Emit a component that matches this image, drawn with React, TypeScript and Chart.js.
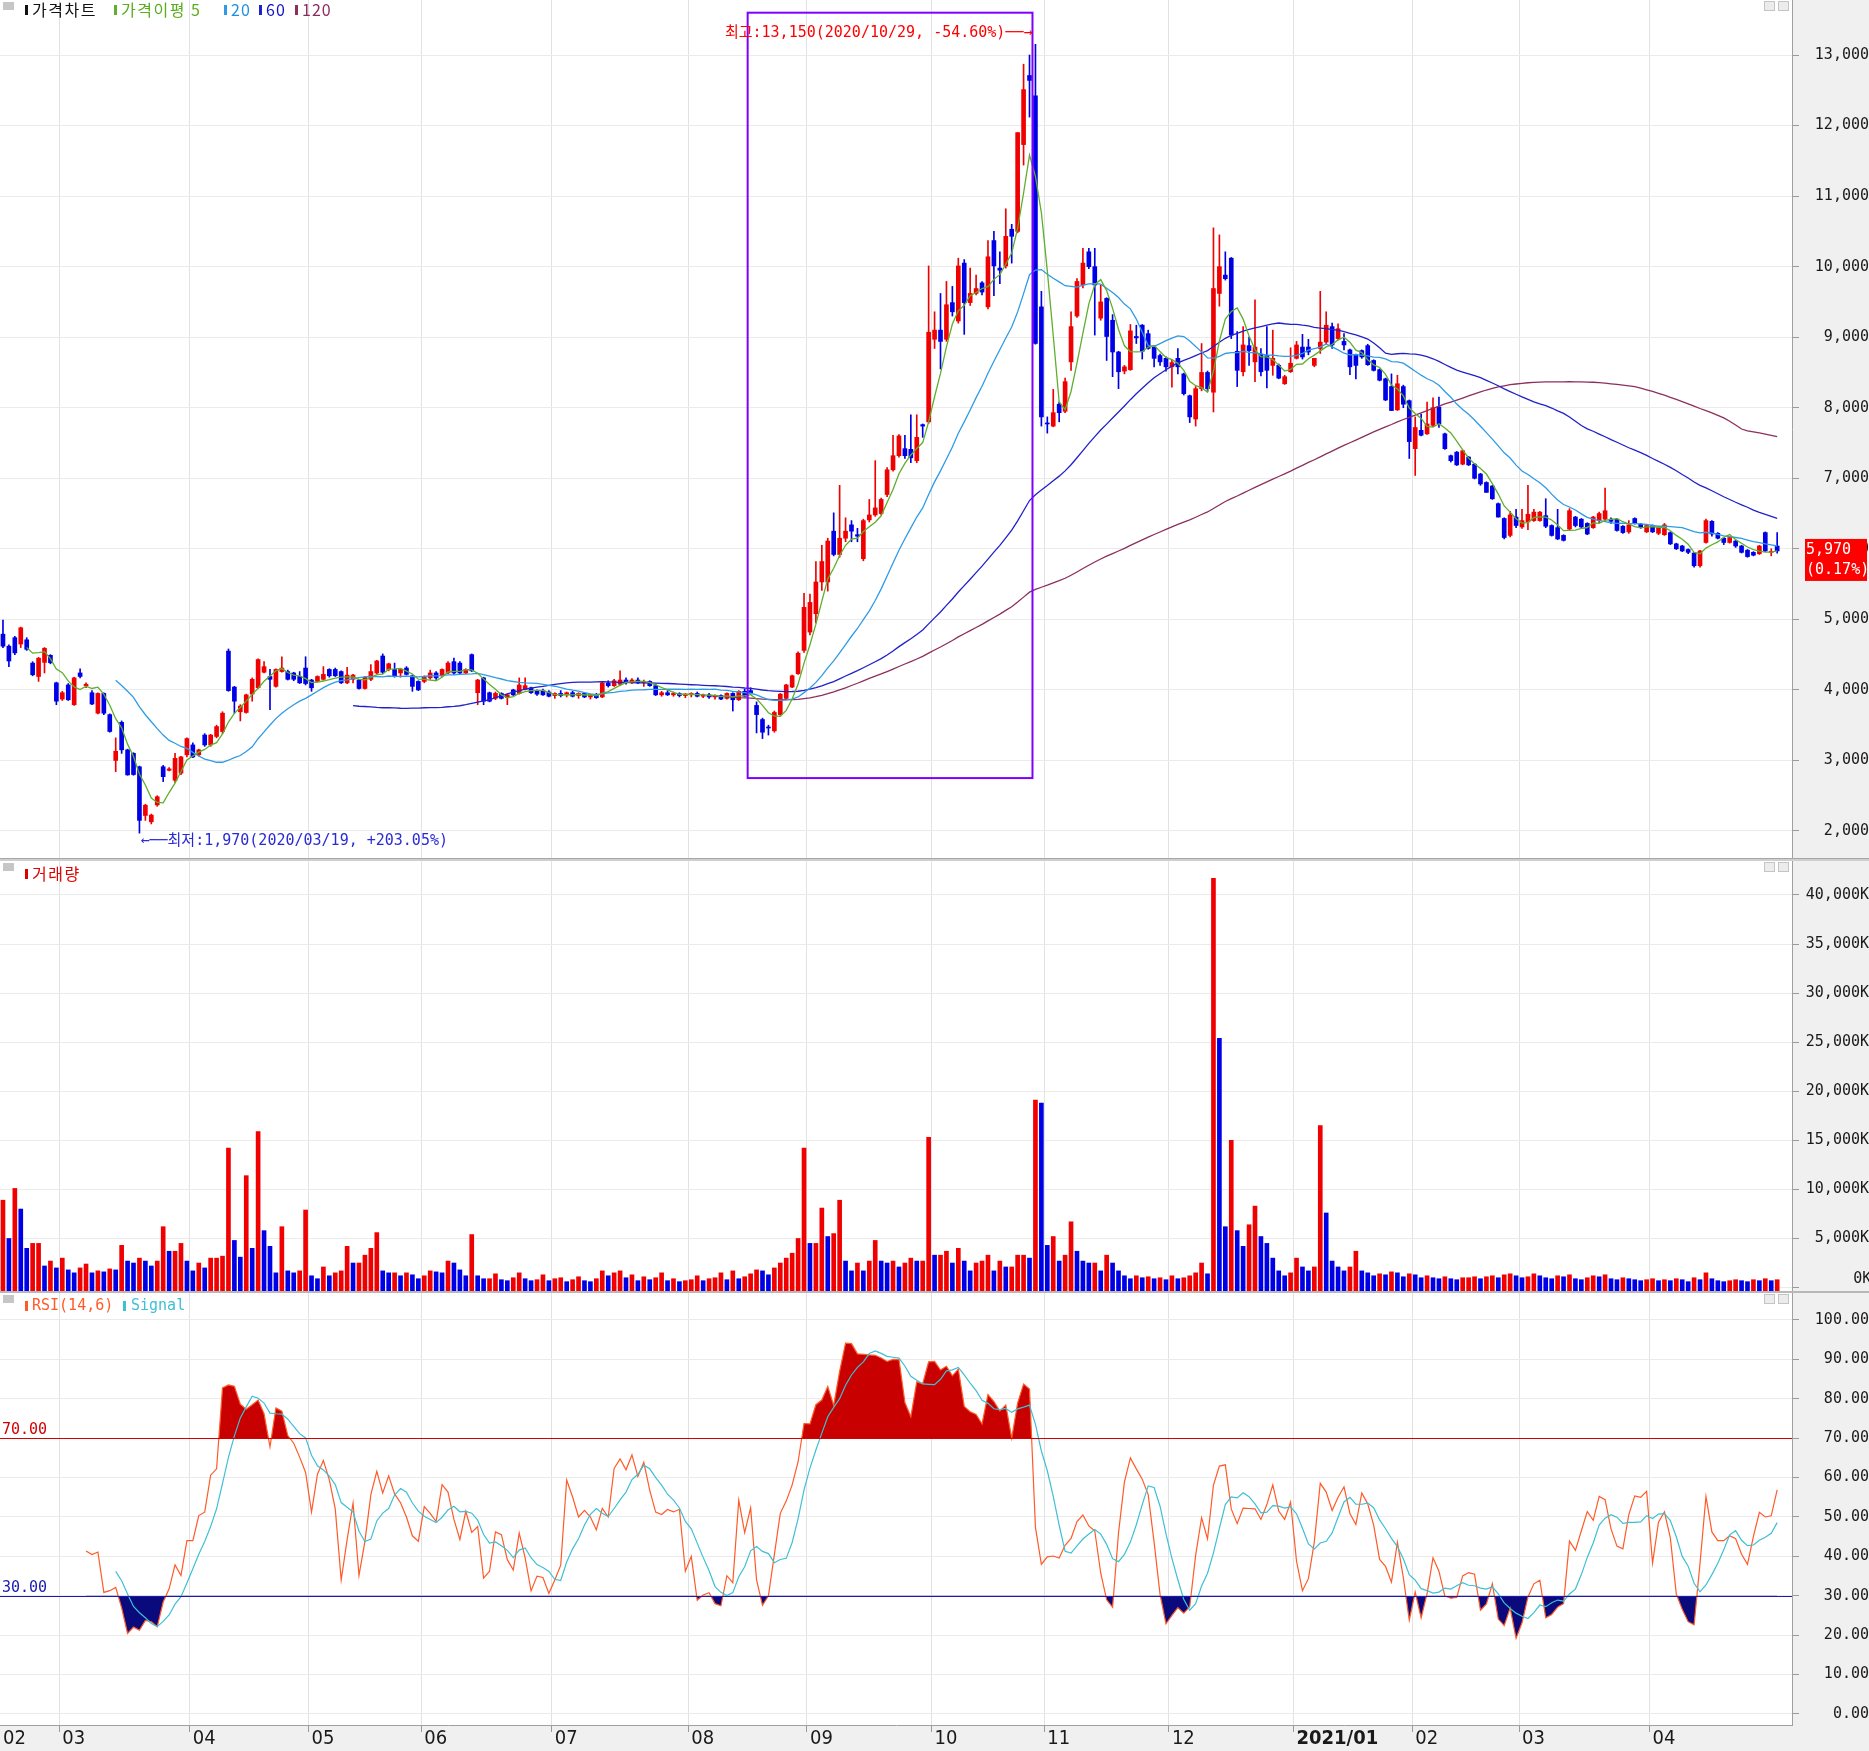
import React, { useEffect, useRef } from 'react';
import { Chart, registerables } from 'chart.js';

Chart.register(...registerables);

// ---------------- data (daily candles, 2020/02/17 .. 2021/04/30) ----------------
const OPEN = [
  4790, 4620, 4740, 4650, 4710, 4380, 4190, 4390, 4490, 4100,
  3870, 4070, 3790, 4240, 4060, 3960, 3670, 3950, 3650, 3000,
  3540, 3150, 3100, 2910, 2220, 2130, 2370, 2910, 2860, 2720,
  2820, 3080, 3220, 3080, 3360, 3220, 3340, 3410, 4550, 4040,
  3690, 3680, 3940, 4030, 4250, 4190, 4050, 4260, 4260, 4240,
  4190, 4310, 4140, 4120, 4150, 4290, 4290, 4260, 4100, 4150,
  4140, 4020, 4150, 4240, 4480, 4290, 4290, 4240, 4310, 4200,
  4120, 4120, 4170, 4240, 4200, 4240, 4400, 4380, 4240, 4500,
  3960, 4170, 3960, 3880, 3950, 3890, 4000, 3950, 4010, 4030,
  3990, 3990, 3970, 3920, 3950, 3930, 3960, 3920, 3950, 3900,
  3930, 3900, 4100, 4060, 4080, 4140, 4100, 4140, 4100, 4120,
  4060, 3930, 3960, 3930, 3950, 3920, 3930, 3950, 3910, 3930,
  3900, 3920, 3880, 3950, 3860, 3980, 3990, 3780, 3580, 3470,
  3420, 3650, 3880, 4040, 4230, 4560, 4820, 5080, 5530, 5530,
  6250, 5920, 6150, 6340, 6200, 5860, 6410, 6480, 6500, 6770,
  7120, 7320, 7420, 7410, 7250, 7760, 7800, 8970, 9100, 8970,
  9490, 9230, 10050, 9490, 9620, 9770, 9430, 10370, 9980, 10010,
  10530, 10500, 11730, 12710, 12420, 9430, 7780, 7740, 8050, 7950,
  8650, 9300, 9740, 10210, 10000, 9270, 9550, 9240, 8790, 8520,
  8540, 9010, 9170, 9050, 8860, 8740, 8700, 8580, 8700, 8480,
  8170, 7840, 8270, 8500, 8220, 9620, 9880, 10120, 8800, 8510,
  8880, 8650, 8760, 8740, 8600, 8600, 8340, 8510, 8700, 8860,
  8860, 8600, 8840, 8930, 9150, 8980, 8940, 8820, 8750, 8810,
  8880, 8670, 8540, 8410, 8300, 7970, 8300, 8100, 7420, 7680,
  7630, 7750, 8010, 7630, 7320, 7370, 7200, 7300, 7200, 7060,
  6940, 6890, 6640, 6430, 6190, 6450, 6310, 6380, 6400, 6400,
  6470, 6330, 6300, 6190, 6280, 6450, 6420, 6360, 6300, 6400,
  6420, 6420, 6420, 6320, 6240, 6430, 6350, 6240, 6330, 6220,
  6200, 6230, 6070, 6040, 5990, 5940, 5760, 6090, 6390, 6220,
  6150, 6090, 6110, 6040, 5980, 5950, 5930, 6230, 5950, 6040,
];
const HIGH = [
  4990, 4640, 4760, 4890, 4740, 4400, 4460, 4600, 4500, 4110,
  3980, 4090, 4180, 4300, 4100, 3990, 3960, 3960, 3660, 3320,
  3560, 3160, 3110, 2920, 2380, 2240, 2500, 2930, 2900, 3100,
  3060, 3320, 3250, 3160, 3380, 3370, 3500, 3690, 4580, 4050,
  3790, 3940, 4170, 4440, 4400, 4290, 4300, 4470, 4280, 4250,
  4260, 4470, 4150, 4200, 4330, 4300, 4310, 4270, 4320, 4220,
  4150, 4190, 4360, 4420, 4510, 4380, 4380, 4300, 4330, 4210,
  4130, 4200, 4280, 4260, 4300, 4400, 4450, 4400, 4300, 4510,
  4150, 4180, 3970, 3970, 3960, 3940, 4010, 4170, 4170, 4040,
  4000, 4010, 3990, 3960, 3990, 3970, 3980, 3960, 3960, 3940,
  3950, 4120, 4130, 4150, 4270, 4170, 4160, 4170, 4140, 4130,
  4080, 3980, 3990, 3970, 3960, 3950, 3960, 3970, 3940, 3950,
  3930, 3930, 3960, 3960, 3990, 4010, 4030, 3830, 3600, 3500,
  3700, 3950, 4080, 4210, 4540, 5370, 5360, 5820, 6050, 6150,
  6510, 6900, 6440, 6400, 6290, 6420, 6700, 7250, 6720, 7150,
  7610, 7620, 7610, 7900, 7900, 7770, 10010, 9360, 9620, 9790,
  9720, 10120, 10100, 9980, 9880, 9790, 10370, 10500, 10210, 10820,
  10600, 11900, 12870, 13000, 13150, 9650, 7870, 8260, 8080, 8420,
  9360, 9830, 10260, 10260, 10260, 9740, 9560, 9320, 8800, 8600,
  9180, 9170, 9180, 9100, 8870, 8760, 8720, 8680, 8840, 8490,
  8180, 8300, 8910, 8520, 10550, 10450, 10210, 10130, 9080, 9150,
  9000, 9530, 8840, 9150, 9100, 8620, 8460, 8850, 8940, 9040,
  8970, 8700, 9650, 9360, 9200, 9190, 9050, 8830, 8760, 8820,
  8900, 8680, 8550, 8420, 8480, 8460, 8320, 8110, 7870, 7910,
  8080, 8140, 8150, 7640, 7330, 7380, 7400, 7310, 7210, 7070,
  6950, 6900, 6650, 6440, 6530, 6560, 6560, 6900, 6560, 6530,
  6710, 6340, 6560, 6200, 6570, 6460, 6430, 6370, 6460, 6520,
  6860, 6440, 6430, 6330, 6400, 6440, 6360, 6340, 6340, 6320,
  6360, 6240, 6080, 6050, 6000, 5950, 5980, 6420, 6400, 6230,
  6160, 6170, 6120, 6050, 5990, 5960, 6050, 6240, 6000, 6230,
];
const LOW = [
  4600, 4330, 4500, 4600, 4560, 4200, 4120, 4240, 4370, 3790,
  3850, 3850, 3780, 4170, 4030, 3790, 3660, 3650, 3400, 2840,
  3100, 2790, 2790, 1970, 2150, 2100, 2350, 2700, 2850, 2690,
  2800, 3050, 3040, 3060, 3200, 3200, 3320, 3380, 3980, 3670,
  3560, 3670, 3840, 4020, 4240, 3720, 4040, 4250, 4140, 4130,
  4090, 4070, 3980, 4110, 4140, 4180, 4190, 4090, 4090, 4100,
  4010, 4010, 4130, 4230, 4230, 4270, 4180, 4180, 4210, 3980,
  3990, 4100, 4150, 4150, 4190, 4230, 4220, 4230, 4230, 4260,
  3790, 3790, 3830, 3860, 3870, 3790, 3920, 3940, 4000, 3950,
  3920, 3920, 3900, 3880, 3900, 3900, 3900, 3880, 3890, 3870,
  3880, 3890, 4040, 4050, 4060, 4080, 4090, 4090, 4050, 4050,
  3920, 3910, 3920, 3910, 3900, 3890, 3900, 3900, 3890, 3880,
  3870, 3860, 3870, 3700, 3850, 3900, 3940, 3390, 3310, 3360,
  3400, 3640, 3870, 4030, 4220, 4530, 4780, 4950, 5410, 5400,
  5900, 5880, 6100, 6100, 6100, 5830, 6380, 6460, 6480, 6740,
  7100, 7300, 7280, 7220, 7220, 7580, 7780, 8840, 8550, 8940,
  9300, 9200, 9040, 9450, 9600, 9600, 9400, 9590, 9760, 9980,
  10050, 10480, 11440, 12120, 8900, 7740, 7640, 7730, 7800, 7930,
  8530, 9280, 9700, 9970, 9030, 9240, 8670, 8440, 8270, 8480,
  8530, 8910, 8690, 8830, 8580, 8600, 8520, 8290, 8480, 8180,
  7790, 7740, 8240, 8230, 7940, 9440, 9810, 8980, 8300, 8450,
  8600, 8370, 8450, 8280, 8460, 8410, 8330, 8500, 8690, 8690,
  8750, 8580, 8770, 8900, 8840, 8960, 8820, 8470, 8410, 8700,
  8600, 8520, 8380, 8100, 7960, 7960, 8000, 7280, 7040, 7600,
  7620, 7730, 7720, 7410, 7230, 7180, 7190, 7180, 6990, 6900,
  6800, 6700, 6450, 6140, 6170, 6300, 6290, 6270, 6390, 6390,
  6300, 6180, 6130, 6110, 6270, 6310, 6300, 6200, 6290, 6370,
  6410, 6360, 6250, 6220, 6220, 6350, 6290, 6230, 6230, 6200,
  6190, 6060, 5990, 5960, 5930, 5740, 5740, 6080, 6180, 6140,
  6060, 6080, 6020, 5940, 5880, 5900, 5920, 5960, 5900, 5940,
];
const CLOSE = [
  4620, 4410, 4525, 4880, 4575, 4215, 4450, 4590, 4385, 3840,
  3960, 3860, 4170, 4190, 4080, 3800, 3950, 3670, 3410, 3130,
  3150, 2795, 2800, 2150, 2365, 2225, 2485, 2770, 2880, 3030,
  3050, 3310, 3050, 3150, 3220, 3360, 3480, 3670, 3990, 3840,
  3770, 3930, 4150, 4430, 4330, 4150, 4290, 4310, 4150, 4150,
  4100, 4090, 4030, 4190, 4220, 4200, 4200, 4100, 4210, 4210,
  4020, 4180, 4260, 4410, 4250, 4370, 4200, 4290, 4220, 4050,
  4000, 4190, 4240, 4170, 4290, 4380, 4240, 4240, 4290, 4270,
  4140, 3840, 3840, 3950, 3880, 3930, 3930, 4070, 4060, 3960,
  3940, 3930, 3910, 3950, 3920, 3960, 3910, 3950, 3900, 3930,
  3890, 4100, 4060, 4130, 4140, 4100, 4140, 4100, 4120, 4060,
  3930, 3960, 3930, 3950, 3920, 3940, 3950, 3910, 3930, 3900,
  3920, 3870, 3950, 3860, 3980, 3910, 3960, 3650, 3400, 3460,
  3680, 3940, 4070, 4200, 4520, 5170, 5240, 5530, 5820, 6110,
  5920, 6150, 6250, 6250, 6180, 6400, 6480, 6580, 6700, 7120,
  7320, 7600, 7320, 7290, 7580, 7740, 9070, 9100, 8940, 9460,
  9360, 10010, 9490, 9620, 9690, 9640, 10140, 10010, 9950, 10430,
  10430, 11900, 12510, 12640, 8910, 7870, 7770, 7930, 7930, 8370,
  9150, 9790, 10050, 10000, 9740, 9500, 9010, 8790, 8510, 8580,
  9090, 8990, 8800, 8840, 8700, 8650, 8580, 8640, 8580, 8200,
  7870, 8270, 8500, 8270, 9690, 10000, 9830, 9030, 8530, 8890,
  8810, 8860, 8510, 8530, 8700, 8420, 8440, 8630, 8890, 8720,
  8790, 8700, 8930, 9170, 8890, 9120, 8890, 8580, 8600, 8720,
  8610, 8530, 8390, 8110, 7960, 8340, 8050, 7520, 7720, 7610,
  7770, 8000, 7770, 7420, 7250, 7190, 7390, 7190, 7000, 6920,
  6800, 6710, 6450, 6160, 6480, 6330, 6400, 6490, 6520, 6520,
  6320, 6190, 6140, 6120, 6540, 6330, 6310, 6210, 6450, 6500,
  6540, 6390, 6260, 6230, 6340, 6360, 6300, 6330, 6240, 6300,
  6340, 6070, 6000, 5970, 5950, 5760, 5970, 6400, 6210, 6150,
  6090, 6160, 6040, 5950, 5890, 5910, 6040, 5970, 5960, 5970,
];
// thousands of shares
const VOLUME = [
  8900, 5000, 10100, 8000, 4000, 4500, 4500, 2200, 2700, 2000,
  3000, 1800, 1500, 2000, 2400, 1500, 1700, 1600, 1900, 1800,
  4300, 2700, 2500, 3000, 2700, 2200, 2700, 6200, 3700, 3700,
  4500, 2700, 1700, 2500, 2000, 3000, 3000, 3200, 14200, 4800,
  3100, 11400, 4000, 15900, 5800, 4200, 1500, 6200, 1700, 1500,
  1700, 7900, 1200, 900, 2100, 1200, 1500, 1700, 4200, 2500,
  2500, 3300, 4000, 5600, 1700, 1500, 1500, 1200, 1500, 1300,
  900, 1200, 1700, 1600, 1500, 2700, 2500, 1800, 1200, 5400,
  1200, 900, 900, 1400, 800, 700, 1000, 1500, 900, 700,
  800, 1300, 700, 900, 1000, 600, 800, 1100, 700, 600,
  900, 1700, 1200, 1500, 1700, 1000, 1300, 700, 1100, 800,
  1000, 1500, 700, 900, 600, 700, 800, 1200, 700, 900,
  1000, 1500, 800, 1700, 900, 1100, 1400, 1800, 1700, 1300,
  2000, 2500, 3000, 3500, 5000, 14200, 4500, 4500, 8100, 5200,
  5500, 8900, 2700, 1700, 2500, 1700, 2700, 4800, 2700, 2500,
  2700, 2100, 2500, 3000, 2700, 2700, 15300, 3300, 3300, 3700,
  2500, 4000, 2700, 1700, 2500, 2700, 3300, 1700, 2700, 2100,
  2100, 3300, 3300, 3000, 19100, 18800, 4300, 5200, 2700, 3300,
  6700, 3700, 2700, 2500, 2500, 1700, 3300, 2500, 1700, 1200,
  900, 1200, 1000, 1100, 900, 1000, 800, 1200, 900, 1000,
  1200, 1500, 2500, 1400, 41700, 25400, 6200, 15000, 5800, 4200,
  6400, 8300, 5200, 4500, 3000, 1700, 1200, 1500, 3000, 2100,
  1700, 2100, 16500, 7600, 2700, 2100, 1700, 2100, 3700, 1700,
  1500, 1200, 1400, 1300, 1600, 1500, 1100, 1400, 1300, 1000,
  1200, 1000, 900, 1100, 900, 800, 1000, 1000, 1100, 900,
  1100, 1200, 1000, 1300, 1400, 1200, 1000, 1100, 1400, 1200,
  1000, 900, 1200, 1100, 1300, 900, 800, 1000, 1200, 1100,
  1300, 900, 800, 1000, 900, 800, 700, 800, 900, 700,
  800, 700, 900, 800, 600, 1000, 800, 1500, 900, 700,
  600, 700, 800, 700, 600, 800, 700, 900, 700, 800,
];

const FIRST_DATE = '2020-02-17';
const HOLIDAYS = [
  '2020-04-15', '2020-04-30', '2020-05-01', '2020-05-05', '2020-08-17',
  '2020-09-30', '2020-10-01', '2020-10-02', '2020-10-09', '2020-12-25',
  '2020-12-31', '2021-01-01', '2021-02-11', '2021-02-12', '2021-03-01',
];
const EMPTY_SLOTS = 2;

const PRICE_TICKS = [2000, 3000, 4000, 5000, 6000, 7000, 8000, 9000, 10000, 11000, 12000, 13000];
const VOLUME_TICKS = [0, 5000, 10000, 15000, 20000, 25000, 30000, 35000, 40000];
const RSI_TICKS = [0, 10, 20, 30, 40, 50, 60, 70, 80, 90, 100];
const PRICE_RANGE = [1617, 13780];
const VOLUME_RANGE = [-350, 43460];
const RSI_RANGE = [-2.8, 106.85];

const MA_PERIODS = [5, 20, 60, 120];
const MA_COLORS = ['#5fae2e', '#2f9be6', '#2020cc', '#8c2f5c'];
const RSI_PERIOD = 14;
const SIGNAL_PERIOD = 6;
const RSI_LEVELS = [
  { value: 70, color: '#d40000' },
  { value: 30, color: '#1a1ab0' },
];
const BOX_FROM = '2020/08/18';
const BOX_TO = '2020/10/29';
const BOX_TOP = 13600;
const BOX_BOTTOM = 2750;

// ---------------- layout / style ----------------
const W = 1869;
const PRICE_H = 858;
const VOL_TOP = 861;
const VOL_H = 430;
const RSI_TOP = 1293;
const RSI_H = 458;
const AXIS_W = 77;

const MONO = "'DejaVu Sans Mono', 'Noto Sans CJK KR', monospace";
const KR = "'Noto Sans CJK KR', 'Noto Sans', sans-serif";
const NARROW = "'Liberation Sans Narrow', 'DejaVu Sans Condensed', 'Liberation Sans', sans-serif";
const UP = '#f00000';
const DOWN = '#0000e6';

// ---------------- derived ----------------
function buildDates(count: number): string[] {
  const out: string[] = [];
  const [y, m, d] = FIRST_DATE.split('-').map(Number);
  const cur = new Date(Date.UTC(y, m - 1, d));
  while (out.length < count) {
    const dow = cur.getUTCDay();
    const iso = cur.toISOString().slice(0, 10);
    if (dow !== 0 && dow !== 6 && !HOLIDAYS.includes(iso)) out.push(iso.replace(/-/g, '/'));
    cur.setUTCDate(cur.getUTCDate() + 1);
  }
  return out;
}
const DATES = buildDates(CLOSE.length);
const LABELS = [...DATES, ...Array(EMPTY_SLOTS).fill('')];
const MONTH_LABELS: Record<number, string> = {};
DATES.forEach((d, i) => {
  const [yy, mm] = d.split('/');
  if (i === 0 || DATES[i - 1].split('/')[1] !== mm) MONTH_LABELS[i] = mm === '01' ? `${yy}/01` : mm;
});

function sma(values: any[], n: number) {
  const out: any[] = values.map(() => null);
  for (let i = n - 1; i < values.length; i++) {
    let s = 0;
    let ok = true;
    for (let k = i - n + 1; k <= i; k++) {
      if (values[k] == null) { ok = false; break; }
      s += values[k];
    }
    if (ok) out[i] = s / n;
  }
  return out;
}
// RSI with simple averages of gains / losses over the period
function rsi(closes: number[], n: number) {
  const out: any[] = closes.map(() => null);
  for (let i = n; i < closes.length; i++) {
    let g = 0, l = 0;
    for (let k = i - n + 1; k <= i; k++) {
      const d = closes[k] - closes[k - 1];
      if (d > 0) g += d; else l -= d;
    }
    out[i] = g + l === 0 ? 50 : (100 * g) / (g + l);
  }
  return out;
}
const RSI_VALUES = rsi(CLOSE, RSI_PERIOD);
const SIGNAL_VALUES = sma(RSI_VALUES, SIGNAL_PERIOD);
const CANDLE_COLORS = CLOSE.map((c, i) => (c >= OPEN[i] ? UP : DOWN));
const VOLUME_COLORS = VOLUME.map((v, i) => (i === 0 || v >= VOLUME[i - 1] ? UP : DOWN));
const fmt = (v: number) => v.toLocaleString('en-US');

// ---------------- chart helpers ----------------
const COMMON: any = {
  animation: false,
  responsive: false,
  maintainAspectRatio: false,
  devicePixelRatio: 1,
  events: [],
  layout: { padding: 0 },
  plugins: { legend: { display: false }, tooltip: { enabled: false } },
};

function xScale(showLabels: boolean): any {
  const isMonth = (c: any) => c && c.index !== undefined && MONTH_LABELS[c.index] !== undefined;
  return {
    type: 'category',
    offset: true,
    grid: {
      offset: true,
      color: (c: any) => (isMonth(c) ? '#e2e2e2' : 'rgba(0,0,0,0)'),
      drawTicks: showLabels,
      tickLength: 7,
      tickColor: (c: any) => (isMonth(c) ? '#9a9a9a' : 'rgba(0,0,0,0)'),
    },
    border: { display: showLabels, color: '#a0a0a0' },
    ticks: showLabels
      ? {
          display: true,
          autoSkip: false,
          maxRotation: 0,
          minRotation: 0,
          align: 'start',
          padding: -5,
          color: '#1a1a1a',
          font: (c: any) => ({
            family: NARROW,
            size: 20,
            weight: (MONTH_LABELS[c.index] || '').includes('/') ? 'bold' : 'normal',
          }),
          callback: (_v: any, i: number) => MONTH_LABELS[i] ?? '',
        }
      : { display: false },
    afterFit: (s: any) => {
      s.height = showLabels ? 26 : 0;
      s.paddingLeft = 0; s.paddingRight = 0; s.paddingTop = 0; s.paddingBottom = 0;
    },
  };
}

function yScale(range: number[], ticks: number[], format: (v: number) => string, pad: number): any {
  return {
    type: 'linear',
    position: 'right',
    min: range[0],
    max: range[1],
    afterBuildTicks: (s: any) => { s.ticks = ticks.map((v) => ({ value: v })); },
    grid: { color: '#ebebeb', drawTicks: true, tickLength: 7, tickColor: '#9a9a9a' },
    border: { display: true, color: '#a0a0a0' },
    ticks: { callback: (v: any) => format(Number(v)), crossAlign: 'far', padding: pad, color: '#1a1a1a', font: { family: MONO, size: 15 } },
    afterFit: (s: any) => { s.width = AXIS_W; s.paddingTop = 0; s.paddingBottom = 0; },
  };
}

const plotBackground = {
  id: 'plotBackground',
  beforeDraw(chart: any) {
    const { ctx, chartArea: a } = chart;
    ctx.save();
    ctx.fillStyle = '#ffffff';
    ctx.fillRect(a.left, a.top, a.right - a.left, a.bottom - a.top);
    ctx.restore();
  },
};

const priceAnnotations = {
  id: 'priceAnnotations',
  afterDatasetsDraw(chart: any) {
    const { ctx } = chart;
    const x = chart.scales.x, y = chart.scales.y;
    const half = (x.getPixelForValue(1) - x.getPixelForValue(0)) / 2;
    const i0 = DATES.indexOf(BOX_FROM), i1 = DATES.indexOf(BOX_TO);
    const left = x.getPixelForValue(i0) - half;
    const right = x.getPixelForValue(i1) - half;
    const top = y.getPixelForValue(BOX_TOP), bottom = y.getPixelForValue(BOX_BOTTOM);
    ctx.save();
    ctx.strokeStyle = '#7f00ff';
    ctx.lineWidth = 2;
    ctx.strokeRect(left, top, right - left, bottom - top);

    const last = CLOSE[CLOSE.length - 1];
    const hi = Math.max(...HIGH), lo = Math.min(...LOW);
    const iMax = HIGH.indexOf(hi), iMin = LOW.indexOf(lo);
    const pctHi = (((last - hi) / hi) * 100).toFixed(2);
    const pctLo = (((last - lo) / lo) * 100).toFixed(2);
    ctx.font = `15px ${MONO}`;
    ctx.textBaseline = 'middle';
    ctx.fillStyle = '#ff0000';
    ctx.textAlign = 'right';
    ctx.fillText(`최고:${fmt(hi)}(${DATES[iMax]}, ${pctHi}%)──→`, x.getPixelForValue(iMax) - half, y.getPixelForValue(hi) - 11);
    ctx.fillStyle = '#2b2bd6';
    ctx.textAlign = 'left';
    ctx.fillText(`←──최저:${fmt(lo)}(${DATES[iMin]}, +${pctLo}%)`, x.getPixelForValue(iMin) + 1, y.getPixelForValue(lo) + 8);
    ctx.restore();
  },
  afterDraw(chart: any) {
    const { ctx, chartArea } = chart;
    const y = chart.scales.y;
    const last = CLOSE[CLOSE.length - 1], prev = CLOSE[CLOSE.length - 2];
    const pct = (((last - prev) / prev) * 100).toFixed(2);
    const cy = y.getPixelForValue(last);
    const bx = chartArea.right + 13;
    const bw = chart.width - bx - 2;
    const top = cy - 12;
    ctx.save();
    ctx.fillStyle = '#ff0000';
    ctx.fillRect(bx, top, bw, 42);
    ctx.fillStyle = '#ffffff';
    ctx.font = `15px ${MONO}`;
    ctx.textAlign = 'left';
    ctx.textBaseline = 'middle';
    ctx.fillText(fmt(last), bx + 1, top + 11);
    ctx.fillText(`(${pct}%)`, bx + 1, top + 31);
    ctx.restore();
  },
};

const volumeZeroLabel = {
  id: 'volumeZeroLabel',
  afterDraw(chart: any) {
    const { ctx } = chart;
    const y = chart.scales.y;
    ctx.save();
    ctx.font = `15px ${MONO}`;
    const widest = ctx.measureText(fmt(VOLUME_TICKS[VOLUME_TICKS.length - 1]) + 'K').width;
    ctx.fillStyle = '#1a1a1a';
    ctx.textAlign = 'right';
    ctx.textBaseline = 'middle';
    ctx.fillText('0K', y.left + 7 + 9 + widest, y.getPixelForValue(0) - 8);
    ctx.restore();
  },
};

const rsiLevels = {
  id: 'rsiLevels',
  afterDatasetsDraw(chart: any) {
    const { ctx, chartArea: a } = chart;
    const y = chart.scales.y;
    ctx.save();
    RSI_LEVELS.forEach(({ value, color }) => {
      const py = Math.round(y.getPixelForValue(value)) + 0.5;
      ctx.strokeStyle = color;
      ctx.lineWidth = 1;
      ctx.beginPath();
      ctx.moveTo(a.left, py);
      ctx.lineTo(a.right, py);
      ctx.stroke();
      ctx.fillStyle = color;
      ctx.font = `15px ${MONO}`;
      ctx.textAlign = 'left';
      ctx.textBaseline = 'bottom';
      ctx.fillText(value.toFixed(2), a.left + 2, py - 1);
    });
    ctx.restore();
  },
};

// ---------------- components ----------------
function Marker({ left, top, color }: any) {
  return <div style={{ position: 'absolute', left, top, width: 3, height: 10, background: color }} />;
}
function Label({ left, top, color, children, font, size, spacing }: any) {
  return (
    <span
      style={{
        position: 'absolute', left, top, color, fontFamily: font, fontSize: size,
        lineHeight: '18px', whiteSpace: 'pre', letterSpacing: spacing ?? 0,
      }}
    >
      {children}
    </span>
  );
}
function PanelIcons({ top }: any) {
  return (
    <>
      <div style={{ position: 'absolute', left: 3, top: top + 2, width: 11, height: 8, background: '#c6c6c6' }} />
      <div style={{ position: 'absolute', left: 1764, top: top + 1, width: 9, height: 8, border: '1px solid #c4c4c4', background: '#ececec' }} />
      <div style={{ position: 'absolute', left: 1778, top: top + 1, width: 9, height: 8, border: '1px solid #c4c4c4', background: '#ececec' }} />
    </>
  );
}

export default function App() {
  const priceRef = useRef<HTMLCanvasElement>(null);
  const volRef = useRef<HTMLCanvasElement>(null);
  const rsiRef = useRef<HTMLCanvasElement>(null);

  useEffect(() => {
    const price = new Chart(priceRef.current as any, {
      type: 'bar',
      data: {
        labels: LABELS,
        datasets: [
          ...MA_PERIODS.map((p, k) => ({
            type: 'line',
            label: `MA${p}`,
            data: sma(CLOSE, p),
            borderColor: MA_COLORS[k],
            borderWidth: 1.3,
            pointRadius: 0,
            fill: false,
            tension: 0,
            order: 0,
          })),
          {
            type: 'bar',
            label: 'wick',
            data: LOW.map((l, i) => [l, HIGH[i]]),
            backgroundColor: CANDLE_COLORS,
            barThickness: 1,
            grouped: false,
            order: 2,
          },
          {
            type: 'bar',
            label: 'body',
            data: OPEN.map((o, i) => [Math.min(o, CLOSE[i]), Math.max(o, CLOSE[i])]),
            backgroundColor: CANDLE_COLORS,
            barThickness: 4,
            minBarLength: 1,
            grouped: false,
            order: 1,
          },
        ] as any,
      },
      options: {
        ...COMMON,
        scales: { x: xScale(false), y: yScale(PRICE_RANGE, PRICE_TICKS, fmt, 10) },
      },
      plugins: [plotBackground, priceAnnotations],
    } as any);

    const volume = new Chart(volRef.current as any, {
      type: 'bar',
      data: {
        labels: LABELS,
        datasets: [
          {
            label: '거래량',
            data: VOLUME,
            backgroundColor: VOLUME_COLORS,
            barThickness: 4,
            base: VOLUME_RANGE[0],
          },
        ],
      },
      options: {
        ...COMMON,
        scales: {
          x: xScale(false),
          y: yScale(VOLUME_RANGE, VOLUME_TICKS, (v) => (v === 0 ? '' : fmt(v) + 'K'), 9),
        },
      },
      plugins: [plotBackground, volumeZeroLabel],
    } as any);

    const rsiChart = new Chart(rsiRef.current as any, {
      type: 'line',
      data: {
        labels: LABELS,
        datasets: [
          {
            label: 'RSI',
            data: RSI_VALUES,
            borderColor: '#ff5a28',
            borderWidth: 1.2,
            pointRadius: 0,
            tension: 0,
            fill: { target: { value: 70 }, above: '#c80000', below: 'rgba(0,0,0,0)' },
            order: 3,
          },
          {
            label: 'RSI low',
            data: RSI_VALUES,
            borderColor: 'rgba(0,0,0,0)',
            borderWidth: 0,
            pointRadius: 0,
            tension: 0,
            fill: { target: { value: 30 }, above: 'rgba(0,0,0,0)', below: '#0a0a7c' },
            order: 4,
          },
          {
            label: 'Signal',
            data: SIGNAL_VALUES,
            borderColor: '#3fbfd4',
            borderWidth: 1.2,
            pointRadius: 0,
            tension: 0,
            fill: false,
            order: 1,
          },
        ],
      },
      options: {
        ...COMMON,
        scales: {
          x: xScale(true),
          y: yScale(RSI_RANGE, RSI_TICKS, (v) => v.toFixed(2), 10),
        },
      },
      plugins: [plotBackground, rsiLevels],
    } as any);

    return () => {
      price.destroy();
      volume.destroy();
      rsiChart.destroy();
    };
  }, []);

  return (
    <div style={{ position: 'absolute', left: 0, top: 0, width: W, height: 1751, background: '#f0f0f0', overflow: 'hidden' }}>
      <canvas ref={priceRef} width={W} height={PRICE_H} style={{ position: 'absolute', left: 0, top: 0, width: W, height: PRICE_H }} />
      <div style={{ position: 'absolute', left: 0, top: PRICE_H, width: W, height: 3, background: '#cfcfcf', borderTop: '1px solid #a6a6a6', boxSizing: 'border-box' }} />
      <canvas ref={volRef} width={W} height={VOL_H} style={{ position: 'absolute', left: 0, top: VOL_TOP, width: W, height: VOL_H }} />
      <div style={{ position: 'absolute', left: 0, top: VOL_TOP + VOL_H, width: W, height: 2, background: '#b8b8b8' }} />
      <canvas ref={rsiRef} width={W} height={RSI_H} style={{ position: 'absolute', left: 0, top: RSI_TOP, width: W, height: RSI_H }} />

      <PanelIcons top={0} />
      <Marker left={25} top={5} color="#111111" />
      <Label left={32} top={0} color="#111111" font={KR} size={16} spacing="1.5px">가격차트</Label>
      <Marker left={114} top={5} color={MA_COLORS[0]} />
      <Label left={121} top={0} color="#5aac1e" font={KR} size={16} spacing="1.5px">가격이평 5</Label>
      <Marker left={224} top={5} color={MA_COLORS[1]} />
      <Label left={231} top={0} color="#1f8fe0" font={KR} size={16} spacing="1px">20</Label>
      <Marker left={259} top={5} color={MA_COLORS[2]} />
      <Label left={266} top={0} color="#1010c8" font={KR} size={16} spacing="1px">60</Label>
      <Marker left={295} top={5} color={MA_COLORS[3]} />
      <Label left={302} top={0} color="#8a2a5e" font={KR} size={16} spacing="1px">120</Label>

      <PanelIcons top={VOL_TOP} />
      <Marker left={25} top={VOL_TOP + 8} color="#e00000" />
      <Label left={32} top={VOL_TOP + 3} color="#e00000" font={KR} size={16} spacing="1.5px">거래량</Label>

      <PanelIcons top={RSI_TOP} />
      <Marker left={25} top={RSI_TOP + 8} color="#ff5a28" />
      <Label left={32} top={RSI_TOP + 3} color="#ff5a28" font={MONO} size={15}>RSI(14,6)</Label>
      <Marker left={123} top={RSI_TOP + 8} color="#3fbfd4" />
      <Label left={131} top={RSI_TOP + 3} color="#3fbfd4" font={MONO} size={15}>Signal</Label>
    </div>
  );
}
